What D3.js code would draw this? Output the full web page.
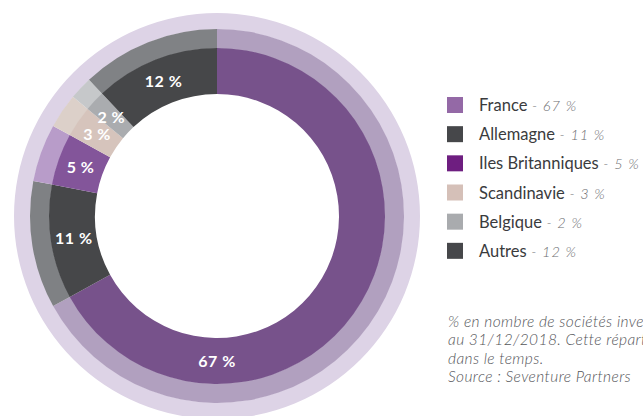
<!DOCTYPE html>
<html>
<head>
<meta charset="utf-8">
<script src="https://cdn.jsdelivr.net/npm/d3@7"></script>
<style>
  html, body { margin: 0; padding: 0; background: #fff; overflow: hidden; }
  svg { display: block; font-family: Lato, "Open Sans", sans-serif; }
</style>
</head>
<body>
<div id="chart"></div>
<script>
const categories = ["France", "Allemagne", "Iles Britanniques", "Scandinavie", "Belgique", "Autres"];
const values = [67, 11, 5, 3, 2, 12];
const innerColors = ["#77528b", "#464749", "#83559a", "#d6c4bc", "#aaacaf", "#464749"];
const ringColors = ["#b1a0bf", "#7f8184", "#b89cc9", "#dcd0c9", "#c6c8ca", "#808285"];
const legendColors = ["#9469a6", "#46474a", "#6e1e80", "#d5c0b8", "#a9abae", "#46474a"];
const footnote = [
  "% en nombre de sociétés investies",
  "au 31/12/2018. Cette répartition peut évoluer",
  "dans le temps.",
  "Source : Seventure Partners"
];

let width = 643,
    height = 416,
    cx = 217, cy = 216;

const svg = d3.select("#chart")
  .append("svg")
  .attr("width", width)
  .attr("height", height);

const pie = d3.pie().sort(null).value(d => d)(values);

const inner = d3.arc().innerRadius(122).outerRadius(168);
const ring = d3.arc().innerRadius(167.5).outerRadius(187);
const halo = d3.arc().innerRadius(186.5).outerRadius(203).startAngle(0).endAngle(2 * Math.PI);
const labelArc = d3.arc().innerRadius(145).outerRadius(145);

const g = svg.append("g").attr("transform", `translate(${cx},${cy})`);

// outer light halo, full circle
g.append("path").attr("d", halo()).attr("fill", "#ddd3e6");

// middle ring, lighter tints of each slice
g.append("g").selectAll("path")
  .data(pie)
  .join("path")
  .attr("d", ring)
  .attr("fill", d => ringColors[d.index]);

// main slices
g.append("g").selectAll("path")
  .data(pie)
  .join("path")
  .attr("d", inner)
  .attr("fill", d => innerColors[d.index]);

// percentage labels (the big France slice gets its label at the bottom)
g.append("g").selectAll("text")
  .data(pie)
  .join("text")
  .attr("transform", d => {
    let a = d.index === 0 ? Math.PI : (d.startAngle + d.endAngle) / 2;
    let p = labelArc.centroid({ startAngle: a, endAngle: a });
    return `translate(${p[0]},${p[1]})`;
  })
  .attr("text-anchor", "middle")
  .attr("dy", "0.36em")
  .attr("fill", "#fff")
  .attr("font-weight", 700)
  .attr("font-size", 16)
  .attr("letter-spacing", 0.5)
  .text(d => d.data + " %");

// legend
let y = d3.scaleBand().domain(categories).range([90, 265]);

const legend = svg.append("g").selectAll("g")
  .data(categories)
  .join("g")
  .attr("transform", d => `translate(447,${y(d)})`);

legend.append("rect")
  .attr("y", 7)
  .attr("width", 16)
  .attr("height", 16)
  .attr("fill", (d, i) => legendColors[i]);

const lt = legend.append("text")
  .attr("x", 32)
  .attr("y", 21)
  .attr("font-size", 16.5)
  .attr("fill", "#3a3b3d");

lt.append("tspan").text(d => d);
lt.append("tspan")
  .attr("font-size", 14.5)
  .attr("font-style", "italic")
  .attr("font-weight", 300)
  .attr("letter-spacing", 1)
  .attr("fill", "#6d6e71")
  .text((d, i) => " - " + values[i] + " %");

// footnote (runs off the right edge like the original)
svg.append("g").selectAll("text")
  .data(footnote)
  .join("text")
  .attr("x", 448)
  .attr("y", (d, i) => 327 + i * 18.3)
  .attr("font-size", 15.5)
  .attr("font-style", "italic")
  .attr("font-weight", 300)
  .attr("letter-spacing", 0.4)
  .attr("fill", "#55565a")
  .text(d => d);
</script>
</body>
</html>
